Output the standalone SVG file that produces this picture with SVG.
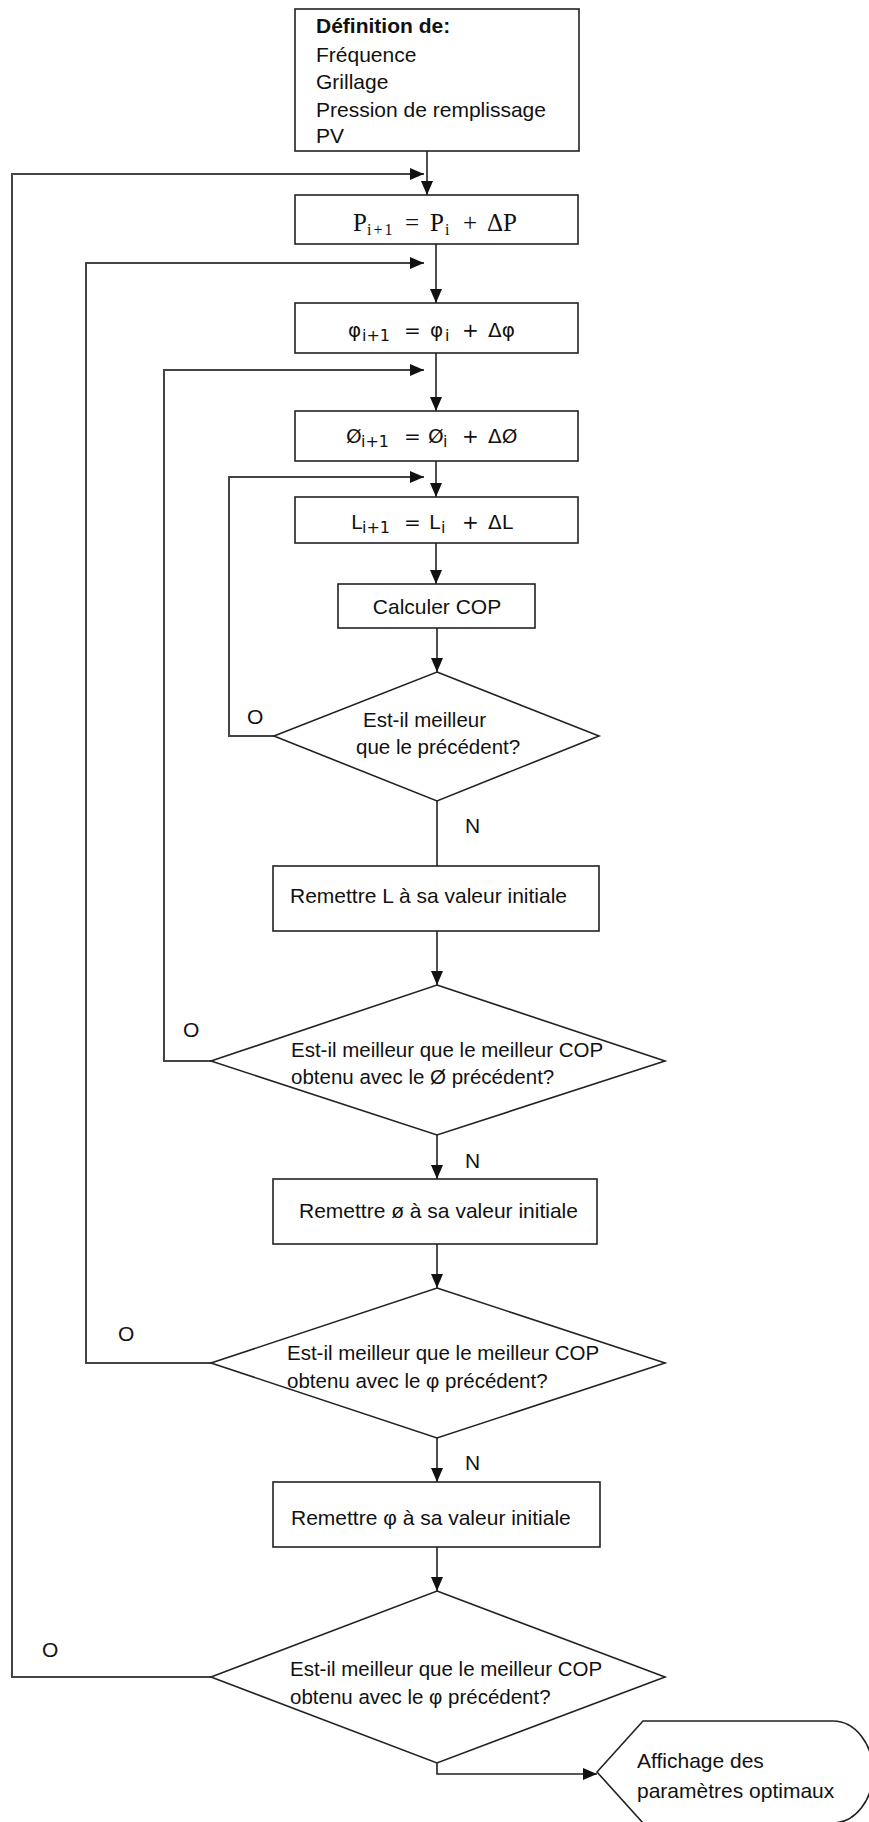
<svg xmlns="http://www.w3.org/2000/svg" width="869" height="1822" viewBox="0 0 869 1822">
<style>
.box{fill:#fff;stroke:#222;stroke-width:1.6}
.ln{fill:none;stroke:#222;stroke-width:1.6}
.lp{fill:none;stroke:#444;stroke-width:2}
.t{font-family:"Liberation Sans",Arial,sans-serif;font-size:21px;fill:#111}
.d{font-family:"Liberation Sans",Arial,sans-serif;font-size:20.5px;fill:#111}
.m{font-family:"DejaVu Sans",sans-serif;font-size:20px;fill:#111}
.ms{font-family:"Liberation Serif",serif;font-size:25px;fill:#111}
.sub{font-size:16px}
</style>
<defs>
<marker id="ah" markerWidth="14" markerHeight="12" refX="14" refY="6" orient="auto" markerUnits="userSpaceOnUse">
<path d="M0,0 L14,6 L0,12 Z" fill="#111"/>
</marker>
</defs>
<g id="connectors">
<path class="ln" d="M427 151 V195" marker-end="url(#ah)"/>
<path class="lp" d="M211 1677 H12 V174 H424" marker-end="url(#ah)"/>
<path class="ln" d="M436 244 V303" marker-end="url(#ah)"/>
<path class="lp" d="M211 1363 H86 V263 H424" marker-end="url(#ah)"/>
<path class="ln" d="M436 353 V411" marker-end="url(#ah)"/>
<path class="lp" d="M211 1061 H164 V370 H424" marker-end="url(#ah)"/>
<path class="ln" d="M436 461 V497" marker-end="url(#ah)"/>
<path class="lp" d="M274 736 H229 V477 H424" marker-end="url(#ah)"/>
<path class="ln" d="M436 543 V584" marker-end="url(#ah)"/>
<path class="ln" d="M437 628 V672" marker-end="url(#ah)"/>
<path class="ln" d="M437 801 V866"/>
<path class="ln" d="M437 931 V985" marker-end="url(#ah)"/>
<path class="ln" d="M437 1135 V1179" marker-end="url(#ah)"/>
<path class="ln" d="M437 1244 V1288" marker-end="url(#ah)"/>
<path class="ln" d="M437 1438 V1482" marker-end="url(#ah)"/>
<path class="ln" d="M437 1547 V1591" marker-end="url(#ah)"/>
<path class="ln" d="M437 1763 V1774 H597" marker-end="url(#ah)"/>
<text class="t" x="247" y="724">O</text>
<text class="t" x="465" y="833">N</text>
<text class="t" x="183" y="1037">O</text>
<text class="t" x="465" y="1168">N</text>
<text class="t" x="118" y="1341">O</text>
<text class="t" x="465" y="1470">N</text>
<text class="t" x="42" y="1657">O</text>
</g>
<g id="n-def">
<rect class="box" x="295" y="9" width="284" height="142"/>
<text class="t" x="316" y="33" font-weight="bold">Définition de:</text>
<text class="t" x="316" y="62">Fréquence</text>
<text class="t" x="316" y="89">Grillage</text>
<text class="t" x="316" y="117">Pression de remplissage</text>
<text class="t" x="316" y="143">PV</text>
</g>
<g id="n-p">
<rect class="box" x="295" y="195" width="283" height="49"/>
<text class="ms" y="231"><tspan x="353">P</tspan><tspan class="sub" x="367" dy="4" letter-spacing="2">i+1</tspan><tspan x="405" dy="-4">=</tspan><tspan x="430">P</tspan><tspan class="sub" x="445" dy="4">i</tspan><tspan x="463" dy="-4">+</tspan><tspan x="487">ΔP</tspan></text>
</g>
<g id="n-phi">
<rect class="box" x="295" y="303" width="283" height="50"/>
<text class="m" y="337"><tspan x="348">φ</tspan><tspan class="sub" x="362" dy="4">i+1</tspan><tspan x="404" dy="-4">=</tspan><tspan x="430">φ</tspan><tspan class="sub" x="445" dy="4">i</tspan><tspan x="462" dy="-4">+</tspan><tspan x="488">Δφ</tspan></text>
</g>
<g id="n-o">
<rect class="box" x="295" y="411" width="283" height="50"/>
<text class="m" y="443"><tspan x="346">Ø</tspan><tspan class="sub" x="361" dy="4">i+1</tspan><tspan x="404" dy="-4">=</tspan><tspan x="428">Ø</tspan><tspan class="sub" x="443" dy="4">i</tspan><tspan x="462" dy="-4">+</tspan><tspan x="488">ΔØ</tspan></text>
</g>
<g id="n-l">
<rect class="box" x="295" y="497" width="283" height="46"/>
<text class="m" y="529"><tspan x="351">L</tspan><tspan class="sub" x="362" dy="4">i+1</tspan><tspan x="404" dy="-4">=</tspan><tspan x="429">L</tspan><tspan class="sub" x="441" dy="4">i</tspan><tspan x="462" dy="-4">+</tspan><tspan x="488">ΔL</tspan></text>
</g>
<g id="n-cop">
<rect class="box" x="338" y="584" width="197" height="44"/>
<text class="t" x="437" y="614" text-anchor="middle" font-size="20">Calculer COP</text>
</g>
<g id="n-d1">
<polygon class="box" points="437,672 599,736 437,801 274,736"/>
<text class="d" x="363" y="727">Est-il meilleur</text>
<text class="d" x="356" y="754">que le précédent?</text>
</g>
<g id="n-rl">
<rect class="box" x="273" y="866" width="326" height="65"/>
<text class="t" x="290" y="903">Remettre L à sa valeur initiale</text>
</g>
<g id="n-d2">
<polygon class="box" points="437,985 665,1061 437,1135 211,1061"/>
<text class="d" x="291" y="1057">Est-il meilleur que le meilleur COP</text>
<text class="d" x="291" y="1084">obtenu avec le Ø précédent?</text>
</g>
<g id="n-ro">
<rect class="box" x="273" y="1179" width="324" height="65"/>
<text class="t" x="299" y="1218">Remettre ø à sa valeur initiale</text>
</g>
<g id="n-d3">
<polygon class="box" points="437,1288 665,1363 437,1438 211,1363"/>
<text class="d" x="287" y="1360">Est-il meilleur que le meilleur COP</text>
<text class="d" x="287" y="1388">obtenu avec le φ précédent?</text>
</g>
<g id="n-rphi">
<rect class="box" x="273" y="1482" width="327" height="65"/>
<text class="t" x="291" y="1525">Remettre φ à sa valeur initiale</text>
</g>
<g id="n-d4">
<polygon class="box" points="437,1591 665,1677 437,1763 211,1677"/>
<text class="d" x="290" y="1676">Est-il meilleur que le meilleur COP</text>
<text class="d" x="290" y="1704">obtenu avec le φ précédent?</text>
</g>
<g id="n-out">
<path class="box" d="M597 1772 L643 1721 L833 1721 A40 51 0 0 1 833 1823 L643 1823 Z"/>
<text class="t" x="637" y="1768">Affichage des</text>
<text class="t" x="637" y="1798">paramètres optimaux</text>
</g>
</svg>
